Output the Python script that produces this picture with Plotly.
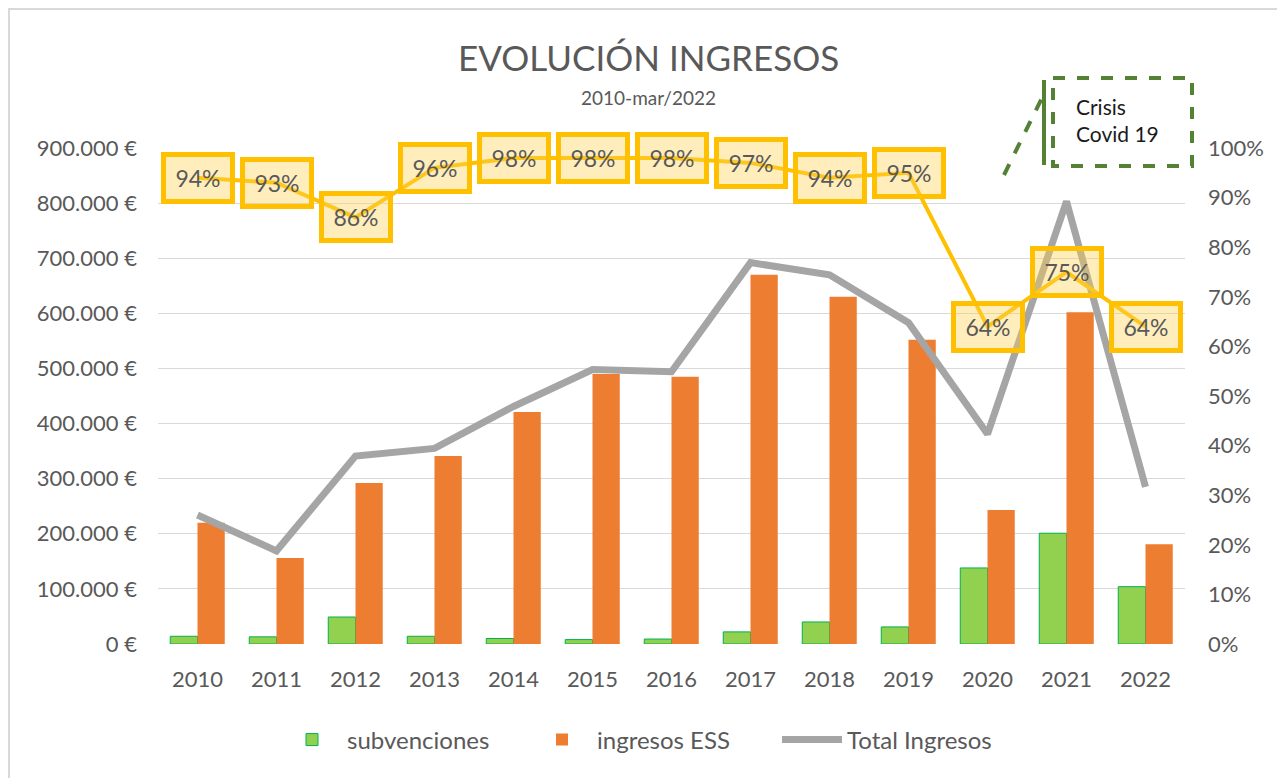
import plotly.graph_objects as go

years = ["2010", "2011", "2012", "2013", "2014", "2015", "2016", "2017", "2018", "2019", "2020", "2021", "2022"]
subvenciones = [14000, 13000, 49000, 14000, 10000, 8000, 9000, 22000, 40000, 31000, 138000, 201000, 104000]
ingresos_ess = [220000, 156000, 292000, 341000, 421000, 490000, 485000, 670000, 630000, 552000, 243000, 602000, 181000]
total_ingresos = [234000, 169000, 341000, 355000, 431000, 498000, 494000, 692000, 670000, 583000, 381000, 803000, 285000]
porcentaje = [0.94, 0.93, 0.86, 0.96, 0.98, 0.98, 0.98, 0.97, 0.94, 0.95, 0.64, 0.75, 0.64]
pct_labels = ["94%", "93%", "86%", "96%", "98%", "98%", "98%", "97%", "94%", "95%", "64%", "75%", "64%"]
left_tickvals = [0, 100000, 200000, 300000, 400000, 500000, 600000, 700000, 800000, 900000]
left_ticktext = ["0 €", "100.000 €", "200.000 €", "300.000 €", "400.000 €", "500.000 €",
                 "600.000 €", "700.000 €", "800.000 €", "900.000 €"]

OFF = 8  # page body margin
W, H = 1285 - OFF, 778 - OFF
L, R, T, B = 158 - OFF, 1185 - OFF, 148 - OFF, 644 - OFF
FONT = "Lato"
GREY_TXT = "#595959"
TICK = 22


def px(x):
    return (x - OFF - L) / (R - L)


def py(y):
    return (B - (y - OFF)) / (B - T)


fig = go.Figure()
fig.add_trace(go.Bar(x=years, y=subvenciones, name="subvenciones",
                     marker=dict(color="#92D050", line=dict(color="#00B050", width=1))))
fig.add_trace(go.Bar(x=years, y=ingresos_ess, name="ingresos ESS",
                     marker=dict(color="#ED7D31", line=dict(width=0))))
fig.add_trace(go.Scatter(x=years, y=total_ingresos, name="Total Ingresos", mode="lines",
                         line=dict(color="#A5A5A5", width=7)))
fig.add_trace(go.Scatter(x=years, y=porcentaje, name="%", mode="lines", yaxis="y2",
                         line=dict(color="#FFC000", width=4), showlegend=False))

annotations = []
for i, (p, lab) in enumerate(zip(porcentaje, pct_labels)):
    annotations.append(dict(x=i, y=p, xref="x", yref="y2", text=lab, showarrow=False,
                            xanchor="center", yanchor="middle",
                            font=dict(family=FONT, size=23, color=GREY_TXT),
                            bgcolor="rgba(255,210,80,0.38)", bordercolor="#FFC000",
                            borderwidth=5, borderpad=3, width=58, height=36))

annotations.append(dict(x=px(1074), y=py(120), xref="paper", yref="paper",
                        text="Crisis<br>Covid 19", showarrow=False, align="left",
                        xanchor="left", yanchor="middle",
                        font=dict(family=FONT, size=21, color="#1a1a1a")))
annotations.append(dict(x=px(648), y=py(57), xref="paper", yref="paper",
                        text="EVOLUCIÓN INGRESOS", showarrow=False,
                        xanchor="center", yanchor="middle",
                        font=dict(family=FONT, size=35, color=GREY_TXT)))
annotations.append(dict(x=px(648), y=py(97), xref="paper", yref="paper",
                        text="2010-mar/2022", showarrow=False,
                        xanchor="center", yanchor="middle",
                        font=dict(family=FONT, size=19, color=GREY_TXT)))

green = "#548235"
shapes = [
    dict(type="rect", xref="paper", yref="paper", x0=px(9), x1=px(1300), y0=py(9), y1=py(800),
         line=dict(color="#D9D9D9", width=2), layer="below"),
    dict(type="rect", xref="paper", yref="paper", x0=px(1053), x1=px(1192), y0=py(78), y1=py(166),
         line=dict(color=green, width=4, dash="dash")),
    dict(type="line", xref="paper", yref="paper", x0=px(1044), x1=px(1044), y0=py(80), y1=py(165),
         line=dict(color=green, width=4)),
    dict(type="line", xref="paper", yref="paper", x0=px(1004), x1=px(1042), y0=py(175), y1=py(98),
         line=dict(color=green, width=4, dash="dash")),
]

fig.update_layout(
    width=W, height=H,
    margin=dict(l=L, r=W - R, t=T, b=H - B, autoexpand=False),
    paper_bgcolor="white", plot_bgcolor="white",
    barmode="group", bargap=0.31, bargroupgap=0,
    font=dict(family=FONT, size=TICK, color=GREY_TXT),
    xaxis=dict(type="category", range=[-0.5, 12.5], autorange=False, showgrid=False,
               showline=False, ticks="", ticklabelstandoff=20,
               tickfont=dict(size=TICK, color=GREY_TXT)),
    yaxis=dict(range=[0, 900000], tickvals=left_tickvals, ticktext=left_ticktext,
               showgrid=True, gridcolor="#D9D9D9", gridwidth=1, zeroline=False, showline=False,
               tickfont=dict(size=TICK, color=GREY_TXT), ticks="", ticklabelstandoff=20),
    yaxis2=dict(range=[0, 1], dtick=0.1, tickformat=".0%", overlaying="y", side="right",
                showgrid=False, zeroline=False, showline=False, ticklabelstandoff=22,
                tickfont=dict(size=TICK, color=GREY_TXT)),
    legend=dict(orientation="h", x=px(652), xanchor="center", y=py(740), yanchor="middle",
                font=dict(size=24, color=GREY_TXT), traceorder="normal",
                itemwidth=60, entrywidth=175, entrywidthmode="pixels"),
    annotations=annotations,
    shapes=shapes,
    showlegend=True,
)

fig.write_html("out.html")
